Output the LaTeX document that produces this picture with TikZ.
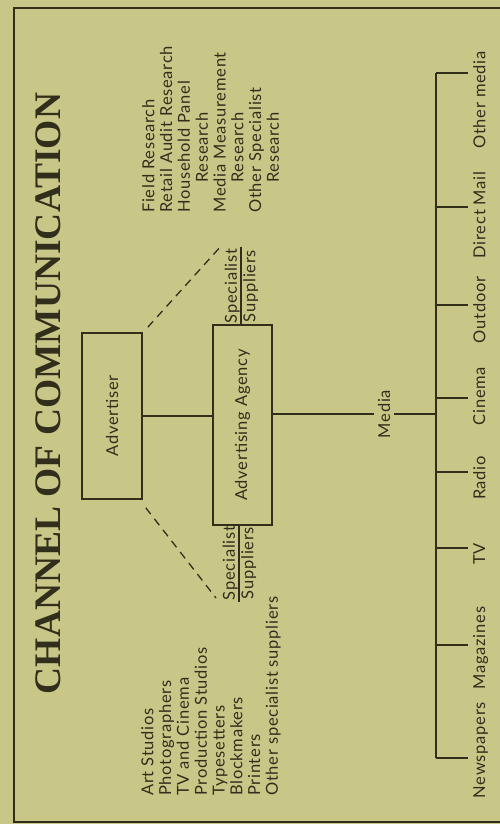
\documentclass[tikz,border=0pt]{standalone}
\usepackage{fontspec}
\setmainfont{Lato}[LetterSpace=4.5]
\newfontfamily\titlefont{Liberation Serif}
\definecolor{bg}{RGB}{201,199,136}
\definecolor{ink}{RGB}{50,46,28}
\tikzset{
  lbl/.style={rotate=90, font=\fontsize{16.5}{17.8}\selectfont, inner sep=0pt, text=ink},
  boxnode/.style={draw=ink, line width=1.6pt, font=\fontsize{16.5}{17.8}\selectfont, text=ink, inner sep=0pt},
  conn/.style={draw=ink, line width=1.5pt},
  dashline/.style={draw=ink, line width=1.3pt, dash pattern=on 8pt off 6pt}
}
\begin{document}
\begin{tikzpicture}[x=1pt,y=-1pt]
\fill[bg] (0,0) rectangle (500,824);
\useasboundingbox (0,0) rectangle (500,824);
% frame
\draw[conn] (506,8) -- (14,8) -- (14,822) -- (506,822);
% title
\node[rotate=90, inner sep=0pt, text=ink, font=\titlefont\bfseries\fontsize{37.5}{40}\selectfont] (title) at (48.5,393.5) {CHANNEL OF COMMUNICATION};
% boxes
\node[boxnode, minimum width=60pt, minimum height=166pt] (adv) at (112,416) {\rotatebox{90}{Advertiser}};
\node[boxnode, minimum width=59pt, minimum height=200pt] (agency) at (242.5,425) {\rotatebox{90}{Advertising Agency}};
\draw[conn] (adv.east) -- (adv.east -| agency.west);
% specialist stubs
\coordinate (sTop) at (241,247);
\coordinate (sBot) at (239,602);
\draw[conn] (sTop) -- (sTop |- agency.north);
\draw[conn] (sBot |- agency.south) -- (sBot);
\node[lbl, anchor=south] (spec1) at (240,286) {Specialist};
\node[lbl, anchor=north] (supp1) at (243,286) {Suppliers};
\node[lbl, anchor=south] (spec2) at (238,563) {Specialist};
\node[lbl, anchor=north] (supp2) at (241,563) {Suppliers};
% dashed lines
\coordinate (dTop) at (222,245);
\coordinate (dBot) at (216,598);
\draw[dashline] ([shift={(5,-5)}]adv.north east) -- (dTop);
\draw[dashline] ([shift={(3,8)}]adv.south east) -- (dBot);
% lists
\node[lbl, anchor=north west, align=left] (research) at (142,213) {Field Research\\Retail Audit Research\\Household Panel\\\hspace*{30pt}Research\\Media Measurement\\\hspace*{30pt}Research\\Other Specialist\\\hspace*{30pt}Research};
\node[lbl, anchor=north west, align=left] (suppliers) at (141,796) {Art Studios\\Photographers\\TV and Cinema\\Production Studios\\Typesetters\\Blockmakers\\Printers\\Other specialist suppliers};
% media
\node[lbl, inner sep=4pt] (media) at (384,414) {Media};
\coordinate (busTop) at (436,73);
\coordinate (busBot) at (436,758);
\draw[conn] (media.north) -- (media.north -| agency.east);
\draw[conn] (media.south) -- (media.south -| busTop);
\draw[conn] (busTop) -- (busBot);
% branches
\coordinate (b1) at (436,758);
\coordinate (b2) at (436,645);
\coordinate (b3) at (436,548);
\coordinate (b4) at (436,472);
\coordinate (b5) at (436,398);
\coordinate (b6) at (436,305);
\coordinate (b7) at (436,207);
\coordinate (b8) at (436,73);
\foreach \b in {b1,b2,b3,b4,b5,b6,b7,b8} {
  \draw[conn] (\b) -- ([xshift=32pt]\b);
}
% media outlets
\node[lbl, anchor=north] (m1) at (473,750) {Newspapers};
\node[lbl, anchor=north] (m2) at (473,648) {Magazines};
\node[lbl, anchor=north] (m3) at (473,554) {TV};
\node[lbl, anchor=north] (m4) at (473,478) {Radio};
\node[lbl, anchor=north] (m5) at (473,396) {Cinema};
\node[lbl, anchor=north] (m6) at (473,310) {Outdoor};
\node[lbl, anchor=north] (m7) at (473,215) {Direct Mail};
\node[lbl, anchor=north] (m8) at (473,100) {Other media};
\end{tikzpicture}
\end{document}
